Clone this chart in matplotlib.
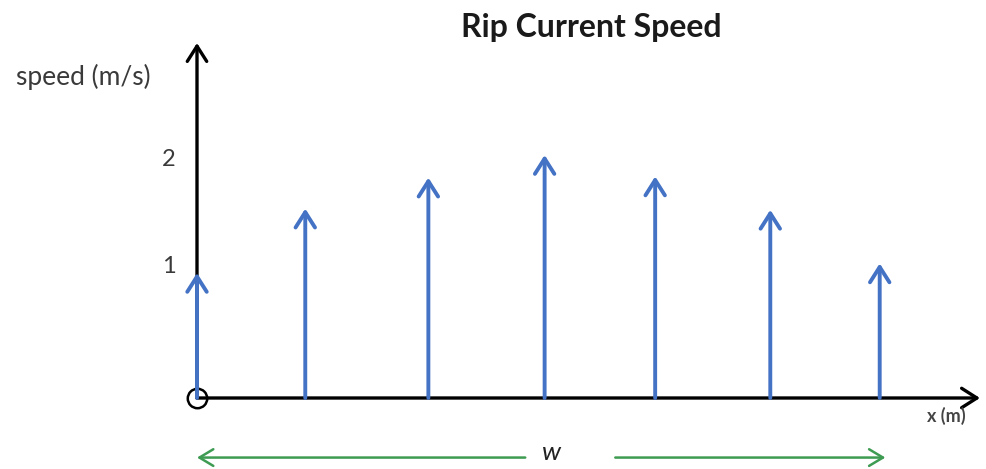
import matplotlib
matplotlib.use("Agg")
import matplotlib.pyplot as plt

# arrow positions along the beach (x) and rip current speed (m/s)
x_pos = [0, 0.95, 2.03, 3.05, 4.02, 5.03, 5.99]
speed = [1.05, 1.59, 1.85, 2.04, 1.86, 1.58, 1.13]
y_ticks = [1, 2]
y_tick_labels = ["1", "2"]

title = "Rip Current Speed"
y_label = "speed (m/s)"
x_label = "x (m)"
width_label = "w"

blue = "#4472C4"
green = "#3E9B52"
text_col = "#3a3a3a"

plt.rcParams["font.family"] = ["Lato", "DejaVu Sans"]

W, H = 986, 469
fig = plt.figure(figsize=(W / 100, H / 100), dpi=100)
ax = fig.add_axes([197 / W, (H - 398) / H, (980 - 197) / W, (398 - 43) / H])
xmax, ymax = 6.87, 2.98
ax.set_xlim(0, xmax)
ax.set_ylim(0, ymax)
ax.axis("off")

axis_style = dict(arrowstyle="->,head_length=0.55,head_width=0.35",
                  color="black", lw=2.4, shrinkA=0, shrinkB=0, mutation_scale=20)
ax.annotate("", xy=(0, ymax), xytext=(0, 0), arrowprops=axis_style,
            annotation_clip=False)
ax.annotate("", xy=(xmax, 0), xytext=(0, 0), arrowprops=axis_style,
            annotation_clip=False)

for x, s in zip(x_pos, speed):
    ax.annotate("", xy=(x, s), xytext=(x, 0),
                arrowprops=dict(arrowstyle="->,head_length=0.55,head_width=0.35",
                                color=blue, lw=2.8, shrinkA=0, shrinkB=0,
                                mutation_scale=20),
                annotation_clip=False)

# origin marker
ax.plot(0, 0, "o", mfc="none", mec="black", ms=14, mew=1.8, clip_on=False)

# tick labels, "1" sits a little above its mark in the sketch
for t, lab in zip(y_ticks, y_tick_labels):
    ax.text(-0.25, t + (0.1 if t == 1 else 0), lab, ha="center", va="center",
            fontsize=17, color=text_col)

# width of the rip current
gstyle = dict(arrowstyle="->,head_length=0.5,head_width=0.3", color=green,
              lw=1.8, shrinkA=0, shrinkB=0, mutation_scale=20)
ax.annotate("", xy=(0, -0.5), xytext=(2.88, -0.5), arrowprops=gstyle,
            annotation_clip=False)
ax.annotate("", xy=(6.04, -0.5), xytext=(3.67, -0.5), arrowprops=gstyle,
            annotation_clip=False)
fig.text(552 / W, 1 - 452 / H, width_label, ha="center", va="center",
         fontsize=19, style="italic", color="#222222")

fig.text(591 / W, 1 - 27 / H, title, ha="center", va="center", fontsize=23,
         fontweight="bold", color="#1a1a1a")
fig.text(83 / W, 1 - 77 / H, y_label, ha="center", va="center", fontsize=19,
         color=text_col)
fig.text(946 / W, 1 - 416 / H, x_label, ha="center", va="center", fontsize=13,
         fontweight="bold", color="#444444")

fig.savefig("out.png", dpi=100)
